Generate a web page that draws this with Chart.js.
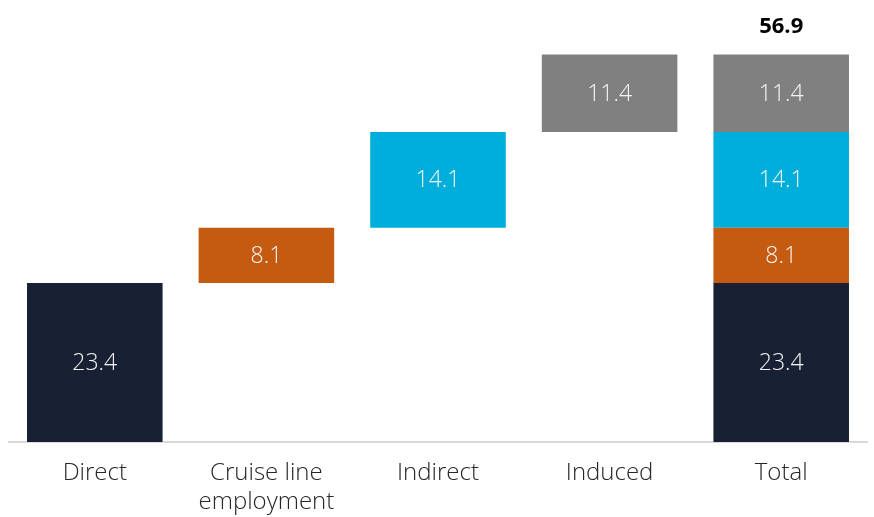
<!DOCTYPE html>
<html>
<head>
<meta charset="utf-8">
<script src="https://cdn.jsdelivr.net/npm/chart.js@4"></script>
<style>
  html, body { margin: 0; padding: 0; background: #fff; }
  #wrap { width: 874px; height: 517px; }
</style>
</head>
<body>
<div id="wrap"><canvas id="chart"></canvas></div>
<script>
const categories = ["Direct", ["Cruise line", "employment"], "Indirect", "Induced", "Total"];
const direct = 23.4;
const cruiseLine = 8.1;
const indirect = 14.1;
const induced = 11.4;
const total = 56.9;

const colors = ["#182033", "#c55a11", "#00aedb", "#808080"];
const parts = [direct, cruiseLine, indirect, induced];

// floating bars: each part in its own column and again in the total column
let base = 0;
const datasets = parts.map(function (v, i) {
  const data = [null, null, null, null, null];
  data[i] = [base, base + v];
  data[4] = [base, base + v];
  base += v;
  return {
    data: data,
    backgroundColor: colors[i],
    value: v,
    grouped: false,
    barPercentage: 0.79,
    categoryPercentage: 1,
  };
});

const labelPlugin = {
  id: "labels",
  afterDatasetsDraw(chart) {
    const ctx = chart.ctx;
    ctx.save();
    ctx.textAlign = "center";
    ctx.textBaseline = "middle";
    chart.data.datasets.forEach(function (ds, i) {
      chart.getDatasetMeta(i).data.forEach(function (bar, j) {
        if (!ds.data[j]) return;
        const y = (bar.y + bar.base) / 2;
        ctx.font = "300 23px 'Open Sans'";
        ctx.fillStyle = "#f4f4f4";
        ctx.fillText(ds.value.toFixed(1), bar.x, y + 1);
      });
    });
    const yScale = chart.scales.y;
    const xScale = chart.scales.x;
    ctx.font = "bold 22px 'Open Sans'";
    ctx.fillStyle = "#000000";
    ctx.fillText(total.toFixed(1), xScale.getPixelForValue(4), yScale.getPixelForValue(total) - 28);
    ctx.restore();
  },
};

new Chart(document.getElementById("chart").getContext("2d"), {
  type: "bar",
  data: { labels: categories, datasets: datasets },
  options: {
    responsive: true,
    maintainAspectRatio: false,
    animation: false,
    layout: { padding: { left: 9, right: 7, top: 34, bottom: 0 } },
    plugins: {
      legend: { display: false },
      tooltip: { enabled: false },
    },
    scales: {
      x: {
        afterFit: function (scale) { scale.height = 75; },
        grid: { display: false, drawTicks: false },
        border: { display: true, color: "#d9d9d9", width: 2 },
        ticks: {
          color: "#262626",
          padding: 17,
          maxRotation: 0,
          font: { family: "'Open Sans'", size: 24, weight: 300, lineHeight: 1.2 },
        },
      },
      y: {
        display: false,
        min: 0,
        max: 60,
      },
    },
  },
  plugins: [labelPlugin],
});
</script>
</body>
</html>
